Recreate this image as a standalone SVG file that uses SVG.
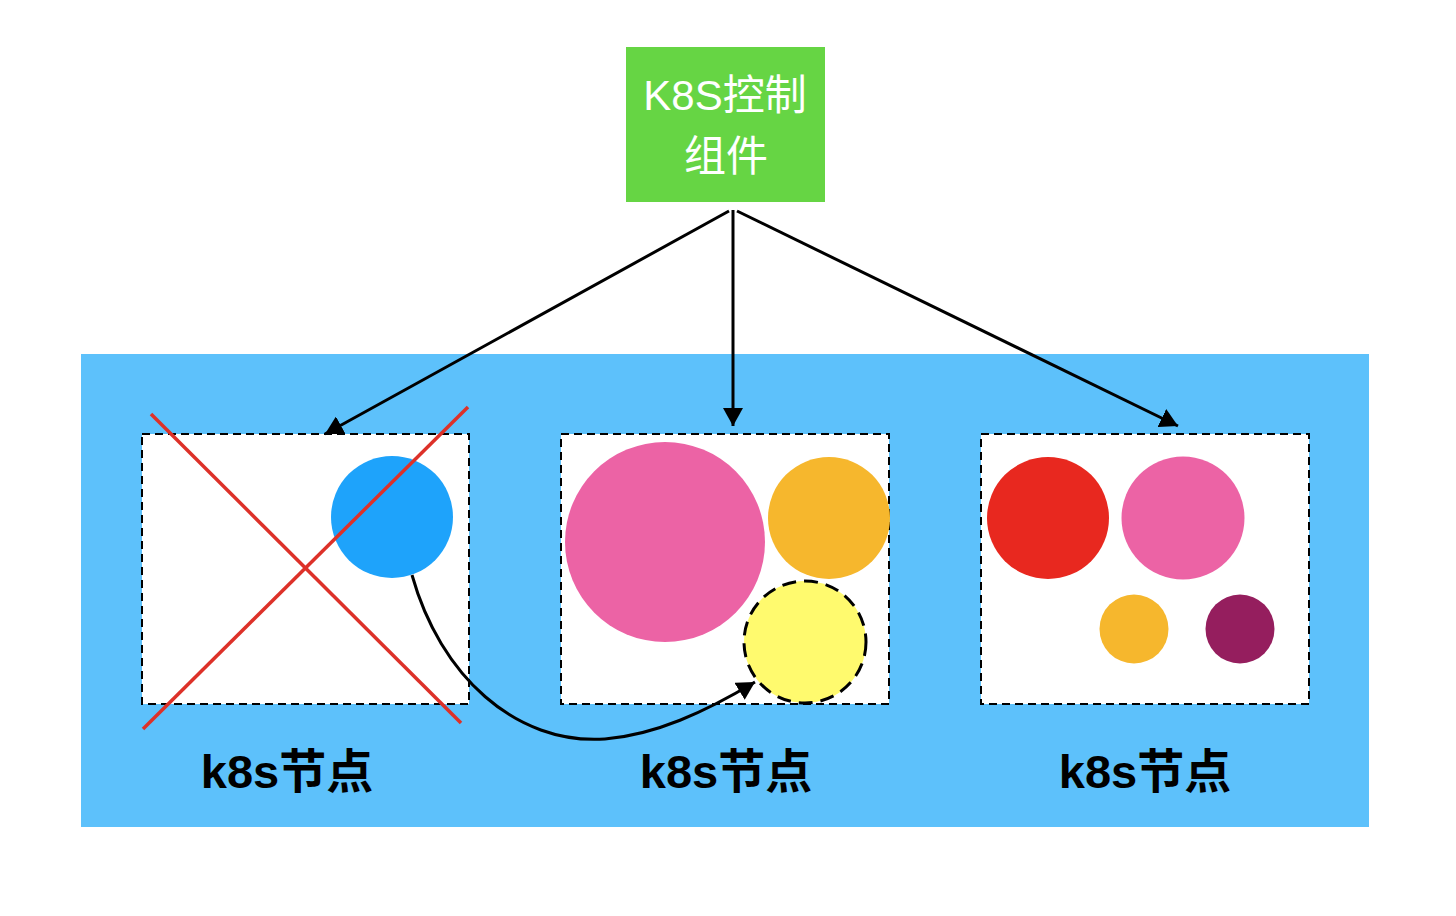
<svg xmlns="http://www.w3.org/2000/svg" width="1456" height="916" viewBox="0 0 1456 916">
<style>
.node{fill:#fff;stroke:#000;stroke-width:2;stroke-dasharray:8 5}
.lbl{font-family:"Liberation Sans","Noto Sans CJK SC",sans-serif;font-weight:bold;font-size:47px;fill:#000;text-anchor:middle}
.ttl{font-family:"Liberation Sans","Noto Sans CJK SC",sans-serif;font-size:42px;fill:#fff;text-anchor:middle}
.conn{fill:none;stroke:#000;stroke-width:3}
.x{stroke:#DD3129;stroke-width:3.5}
</style>
<defs>
<marker id="ah" viewBox="0 0 18 20" refX="18" refY="10" markerWidth="18" markerHeight="20" markerUnits="userSpaceOnUse" orient="auto">
<path d="M0,0 L18,10 L0,20 z" fill="#000"/>
</marker>
</defs>
<rect x="0" y="0" width="1456" height="916" fill="#fff"/>
<rect id="cluster" x="81" y="354" width="1288" height="473" fill="#5DC1FB"/>
<g id="control">
<rect x="626" y="47" width="199" height="155" fill="#66D544"/>
<text class="ttl" x="725" y="110">K8S控制</text>
<text class="ttl" x="726" y="171">组件</text>
</g>
<g id="node1">
<rect class="node" x="142" y="434" width="327" height="270"/>
<circle cx="392" cy="517" r="61" fill="#1EA3FB"/>
<line class="x" x1="151" y1="414" x2="461" y2="723"/>
<line class="x" x1="468" y1="407" x2="143" y2="729"/>
<text class="lbl" x="287" y="788">k8s节点</text>
</g>
<g id="node2">
<rect class="node" x="561" y="434" width="328" height="270"/>
<circle cx="665" cy="542" r="100" fill="#EC63A5"/>
<circle cx="829" cy="518" r="61" fill="#F6B72D"/>
<circle cx="805" cy="642" r="61" fill="#FFFA6E" stroke="#000" stroke-width="3" stroke-dasharray="14 8"/>
<text class="lbl" x="726" y="788">k8s节点</text>
</g>
<g id="node3">
<rect class="node" x="981" y="434" width="328" height="270"/>
<circle cx="1048" cy="518" r="61" fill="#E8281F"/>
<circle cx="1183" cy="518" r="61.5" fill="#EC63A5"/>
<circle cx="1134" cy="629" r="34.5" fill="#F6B72D"/>
<circle cx="1240" cy="629" r="34.5" fill="#951E5E"/>
<text class="lbl" x="1145" y="788">k8s节点</text>
</g>
<g id="connectors">
<line class="conn" x1="729" y1="211" x2="325" y2="434" marker-end="url(#ah)"/>
<line class="conn" x1="733" y1="210" x2="733" y2="426" marker-end="url(#ah)"/>
<line class="conn" x1="737" y1="211" x2="1178" y2="426" marker-end="url(#ah)"/>
<path class="conn" d="M412,575 C440,675 515,745 605,739 C655,735 705,712 755,682" marker-end="url(#ah)"/>
</g>
</svg>
